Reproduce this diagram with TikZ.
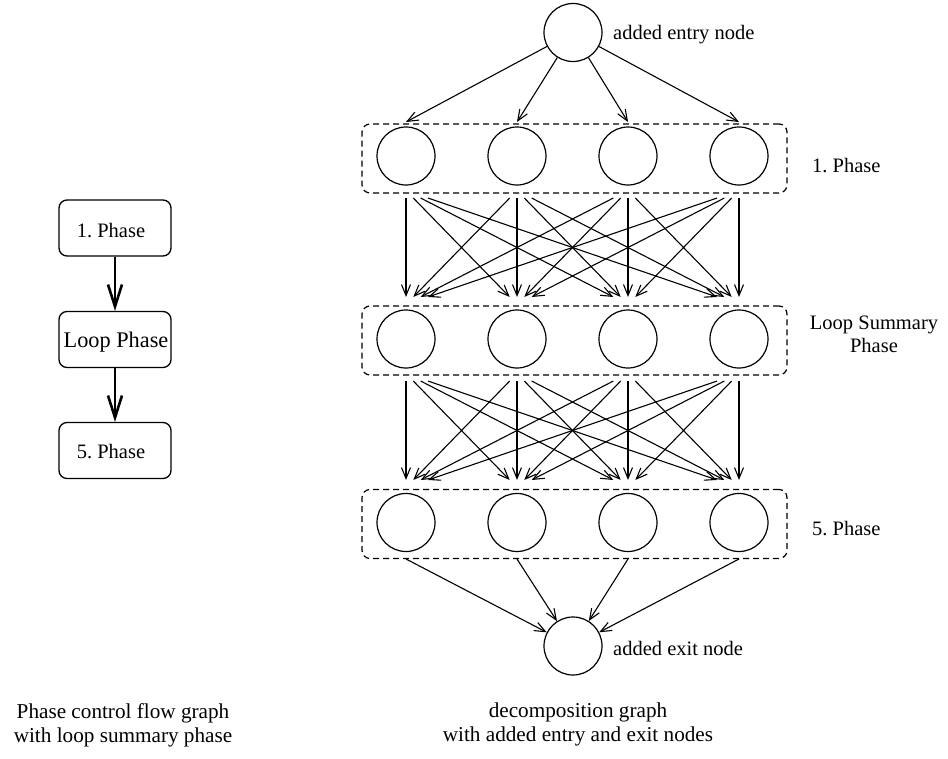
\documentclass[tikz,border=0pt]{standalone}
\usepackage{fontspec}
\setmainfont{Liberation Serif}
\usetikzlibrary{arrows.meta,calc}
\begin{document}
\frenchspacing
\begin{tikzpicture}[x=1bp,y=-1bp,
 font=\fontsize{20.5bp}{23bp}\selectfont,
 vert/.style={circle,draw,line width=1.2bp,minimum size=58bp,inner sep=0},
 phasebox/.style={draw,dash pattern=on 6bp off 4bp,rounded corners=8bp,line width=1.2bp,minimum width=425bp,minimum height=69bp,inner sep=0},
 link/.style={line width=1.1bp,-{Straight Barb[length=11bp,width=9bp]}},
 cfgbox/.style={draw,rounded corners=8bp,line width=1.3bp,minimum width=112bp,minimum height=56bp,inner sep=0},
 bigarrow/.style={line width=2.6bp,-{Straight Barb[length=22bp,width=14bp]}},
 lbl/.style={inner sep=0,anchor=base west},
 captxt/.style={inner sep=0,anchor=north,align=center,font=\fontsize{21.2bp}{24bp}\selectfont}]
\useasboundingbox (0,0) rectangle (948,759);

% left control flow graph
\node[cfgbox] (p1) at (115,228) {};
\node[cfgbox] (p2) at (115,339.5) {};
\node[cfgbox] (p3) at (115,450.5) {};
\node[inner sep=0,anchor=base] (p1t) at (111,237) {1. Phase};
\node[inner sep=0,anchor=base,font=\fontsize{22.3bp}{24bp}\selectfont] (p2t) at (116,347) {Loop Phase};
\node[inner sep=0,anchor=base] (p3t) at (111,458) {5. Phase};
\draw[bigarrow] (p1) -- (p2);
\draw[bigarrow] (p2) -- (p3);

% decomposition graph
\node[phasebox] (box1) at (574.5,158.5) {};
\node[phasebox] (box2) at (574.5,340.5) {};
\node[phasebox] (box3) at (574.5,524) {};

\node[vert] (entry) at (573,32.5) {};
\node[vert] (exit) at (573,646) {};
\foreach \k/\x in {1/406,2/517,3/628,4/739}{
  \node[vert] (a\k) at (\x,156) {};
  \node[vert] (b\k) at (\x,339) {};
  \node[vert] (c\k) at (\x,522.5) {};
  \coordinate (ain\k) at (\x,122);
  \coordinate (ao\k) at (\x,190.5);
  \coordinate (bi\k) at (\x,304.5);
  \coordinate (bo\k) at (\x,373.5);
  \coordinate (ci\k) at (\x,487.5);
  \coordinate (cout\k) at (\x,559);
}
\foreach \k in {1,...,4}{
  \draw[link] (entry) -- (ain\k);
  \draw[link] (cout\k) -- (exit);
  \foreach \j in {1,...,4}{
    \draw[link] ($(ao\k)!0.066!(bi\j)$) -- ($(ao\k)!0.934!(bi\j)$);
    \draw[link] ($(bo\k)!0.066!(ci\j)$) -- ($(bo\k)!0.934!(ci\j)$);
  }
}

\node[lbl] (lentry) at (613,40) {added entry node};
\node[lbl] (lexit) at (613,655) {added exit node};
\node[lbl] (l1) at (812,172) {1. Phase};
\node[inner sep=0,anchor=north,align=center] (l2) at (874,316) {Loop Summary\\Phase};
\node[lbl] (l3) at (812,535) {5. Phase};

\node[captxt] (cap1) at (123,703) {Phase control flow graph\\with loop summary phase};
\node[captxt] (cap2) at (578,703) {decomposition graph\\with added entry and exit nodes};
\end{tikzpicture}
\end{document}
